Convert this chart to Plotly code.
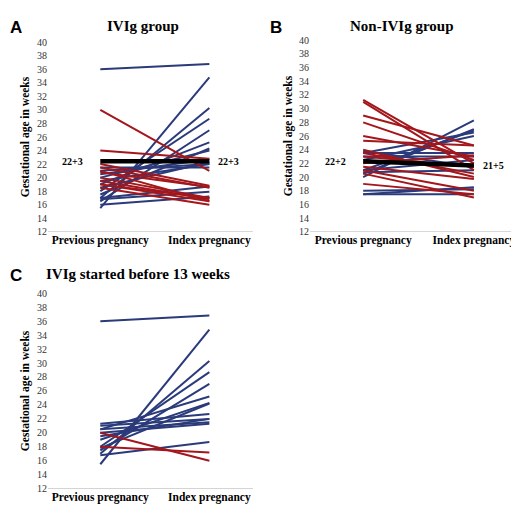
import plotly.graph_objects as go

BLUE = "#2B3A7A"
RED = "#A3171C"
x_labels = ["<b>Previous pregnancy</b>", "<b>Index pregnancy</b>"]

# Panel A: IVIg group (previous, index)
a_blue_prev = [36.0, 15.5, 17.0, 18.0, 16.5, 19.0, 17.5, 20.0, 20.5, 21.0, 21.5, 17.0, 16.8, 16.0, 19.5, 18.5]
a_blue_idx  = [36.8, 34.8, 30.3, 28.7, 27.0, 25.2, 24.3, 24.0, 22.7, 22.0, 21.5, 18.7, 17.9, 17.2, 22.0, 22.3]
a_red_prev = [30.0, 24.0, 22.0, 21.5, 20.0, 19.0, 19.5, 18.5, 20.8, 19.0, 21.0]
a_red_idx  = [21.0, 22.8, 18.8, 18.5, 17.0, 16.5, 16.8, 16.0, 18.6, 17.0, 16.5]
a_mean = [22.4, 22.4]
a_mean_labels = ["22+3", "22+3"]

# Panel B: Non-IVIg group
b_blue_prev = [17.5, 17.5, 20.0, 20.5, 21.0, 23.5, 22.5, 23.5, 23.0, 20.7, 21.0, 23.8, 18.0]
b_blue_idx  = [18.5, 17.5, 28.3, 27.0, 26.8, 26.5, 26.0, 23.5, 23.0, 21.0, 22.5, 21.5, 18.2]
b_red_prev = [31.3, 31.0, 29.0, 28.0, 26.0, 25.3, 23.5, 23.0, 21.0, 20.5, 19.0, 24.0, 21.5, 22.0]
b_red_idx  = [22.0, 21.0, 24.6, 22.5, 23.0, 24.6, 20.5, 21.5, 18.0, 17.0, 17.5, 20.0, 19.7, 23.2]
b_mean = [22.3, 21.7]
b_mean_labels = ["22+2", "21+5"]

# Panel C: IVIg started before 13 weeks
c_blue_prev = [36.0, 15.5, 17.0, 18.0, 17.5, 20.5, 19.0, 17.8, 21.3, 21.0, 20.5, 20.0, 16.8, 19.5]
c_blue_idx  = [36.8, 34.8, 30.3, 28.7, 27.0, 25.2, 24.3, 24.2, 22.7, 22.0, 21.5, 21.3, 18.7, 22.0]
c_red_prev = [20.0, 18.0]
c_red_idx  = [16.0, 17.2]

fig = go.Figure()
FONT = "Liberation Serif"

def add_panel(k, bp, bi, rp, ri, mean=None, mlabels=None):
    xa = "x" if k == 1 else f"x{k}"
    ya = "y" if k == 1 else f"y{k}"
    for p, i in zip(bp, bi):
        fig.add_trace(go.Scatter(x=[0, 1], y=[p, i], mode="lines", line=dict(color=BLUE, width=2),
                                 xaxis=xa, yaxis=ya, showlegend=False, hoverinfo="skip"))
    for p, i in zip(rp, ri):
        fig.add_trace(go.Scatter(x=[0, 1], y=[p, i], mode="lines", line=dict(color=RED, width=2),
                                 xaxis=xa, yaxis=ya, showlegend=False, hoverinfo="skip"))
    if mean:
        fig.add_trace(go.Scatter(x=[0, 1], y=mean, mode="lines", line=dict(color="black", width=4.5),
                                 xaxis=xa, yaxis=ya, showlegend=False, hoverinfo="skip"))
        fig.add_annotation(x=-0.14, y=mean[0], text=f"<b>{mlabels[0]}</b>", xref=xa, yref=ya, showarrow=False,
                           xanchor="right", font=dict(family=FONT, size=10, color="black"))
        fig.add_annotation(x=1.06, y=mean[1], text=f"<b>{mlabels[1]}</b>", xref=xa, yref=ya, showarrow=False,
                           xanchor="left", font=dict(family=FONT, size=10, color="black"))

add_panel(1, a_blue_prev, a_blue_idx, a_red_prev, a_red_idx, a_mean, a_mean_labels)
add_panel(2, b_blue_prev, b_blue_idx, b_red_prev, b_red_idx, b_mean, b_mean_labels)
add_panel(3, c_blue_prev, c_blue_idx, c_red_prev, c_red_idx)

ax = dict(tickvals=[0, 1], ticktext=x_labels, showgrid=False, zeroline=False, showline=False,
          ticks="", tickangle=0, tickfont=dict(family=FONT, size=11.5, color="black"))
ay = dict(range=[12, 40], dtick=2, showgrid=False, zeroline=False, showline=False,
          tickfont=dict(family=FONT, size=10, color="#333"),
          title=dict(text="<b>Gestational age in weeks</b>", font=dict(family=FONT, size=11.5, color="black"), standoff=4))

fig.update_layout(
    width=519, height=508, margin=dict(l=0, r=0, t=0, b=0),
    plot_bgcolor="white", paper_bgcolor="white",
    xaxis=dict(ax, domain=[0.077, 0.472], range=[-0.48, 1.4], anchor="y"),
    yaxis=dict(ay, domain=[0.561, 0.943], anchor="x"),
    xaxis2=dict(ax, domain=[0.582, 1.0], range=[-0.48, 1.48], anchor="y2"),
    yaxis2=dict(ay, domain=[0.561, 0.947], anchor="x2"),
    xaxis3=dict(ax, domain=[0.077, 0.472], range=[-0.48, 1.4], anchor="y3"),
    yaxis3=dict(ay, domain=[0.043, 0.437], anchor="x3"),
)
for xa, ya in [("x", "y"), ("x2", "y2"), ("x3", "y3")]:
    fig.add_shape(type="line", xref=f"{xa} domain", yref=ya, x0=0, x1=1, y0=12, y1=12,
                  line=dict(color="#BBBBBB", width=1))

titles = [("A", "IVIg group", 0.0, 0.26, 0.995), ("B", "Non-IVIg group", 0.5, 0.76, 0.995),
          ("C", "IVIg started before 13 weeks", 0.0, 0.25, 0.495)]
for letter, t, lx, tx, y in titles:
    fig.add_annotation(x=lx, y=y, xref="paper", yref="paper", text=f"<b>{letter}</b>", showarrow=False,
                       xanchor="left", yanchor="top", font=dict(family="Liberation Sans", size=17, color="black"))
    fig.add_annotation(x=tx, y=y, xref="paper", yref="paper", text=f"<b>{t}</b>", showarrow=False,
                       xanchor="center", yanchor="top", font=dict(family=FONT, size=15, color="black"))

fig.write_html("out.html")
